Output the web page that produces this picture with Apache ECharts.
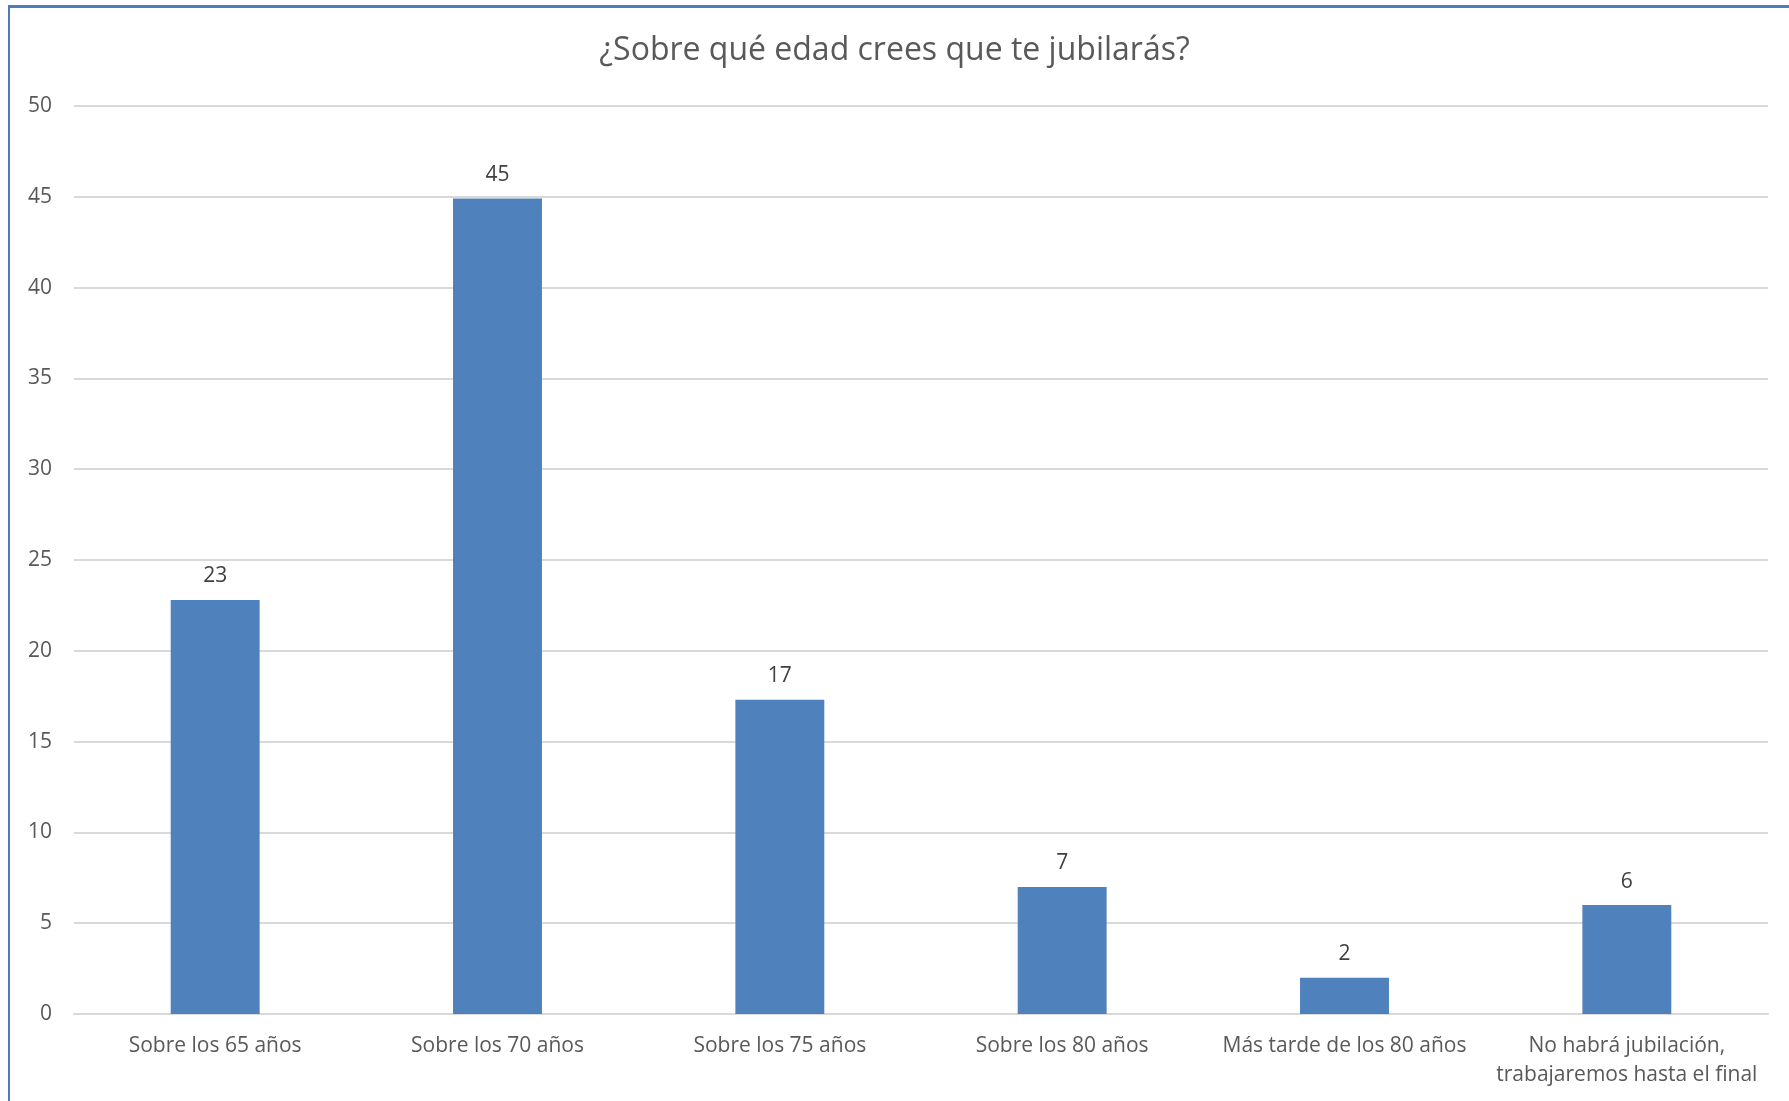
<!DOCTYPE html>
<html>
<head>
<meta charset="utf-8">
<script src="https://cdn.jsdelivr.net/npm/echarts@6/dist/echarts.min.js"></script>
<style>
html,body{margin:0;padding:0;background:#fff;}
#frame{position:absolute;left:8px;top:5px;width:1781px;height:1096px;border-top:3px solid #4a7ebb;border-left:2px solid #4a7ebb;box-sizing:border-box;}
#chart{position:absolute;left:0;top:0;width:1789px;height:1101px;}
</style>
</head>
<body>
<div id="frame"></div>
<div id="chart"></div>
<script>
const titleText = '¿Sobre qué edad crees que te jubilarás?';
const categories = ['Sobre los 65 años','Sobre los 70 años','Sobre los 75 años','Sobre los 80 años','Más tarde de los 80 años','No habrá jubilación,\ntrabajaremos hasta el final'];
const values = [22.8, 44.9, 17.3, 7, 2, 6];
const yMin = 0, yMax = 50, yStep = 5;

const chart = echarts.init(document.getElementById('chart'));
const font = '"Open Sans", "Noto Sans", sans-serif';
chart.setOption({
  animation: false,
  backgroundColor: 'transparent',
  title: {
    text: titleText,
    left: 'center',
    top: 30,
    textStyle: {fontFamily: font, fontSize: 32, fontWeight: 'normal', color: '#595959'}
  },
  grid: {left: 74, right: 21, top: 106, bottom: 87, containLabel: false},
  xAxis: {
    type: 'category',
    data: categories,
    axisLine: {show: true, lineStyle: {color: '#d9d9d9', width: 2}},
    axisTick: {show: false},
    axisLabel: {fontFamily: font, fontSize: 21, color: '#595959', margin: 18, lineHeight: 29, interval: 0}
  },
  yAxis: {
    type: 'value',
    min: yMin, max: yMax, interval: yStep,
    axisLine: {show: false},
    axisTick: {show: false},
    splitLine: {lineStyle: {color: '#d9d9d9', width: 2}},
    axisLabel: {fontFamily: font, fontSize: 21, color: '#595959', margin: 22}
  },
  series: [{
    type: 'bar',
    data: values,
    barWidth: '31.5%',
    itemStyle: {color: '#4f81bd'},
    label: {show: true, position: 'top', distance: 13, fontFamily: font, fontSize: 21, color: '#404040',
      formatter: p => Math.round(p.value).toString()}
  }]
});
</script>
</body>
</html>
